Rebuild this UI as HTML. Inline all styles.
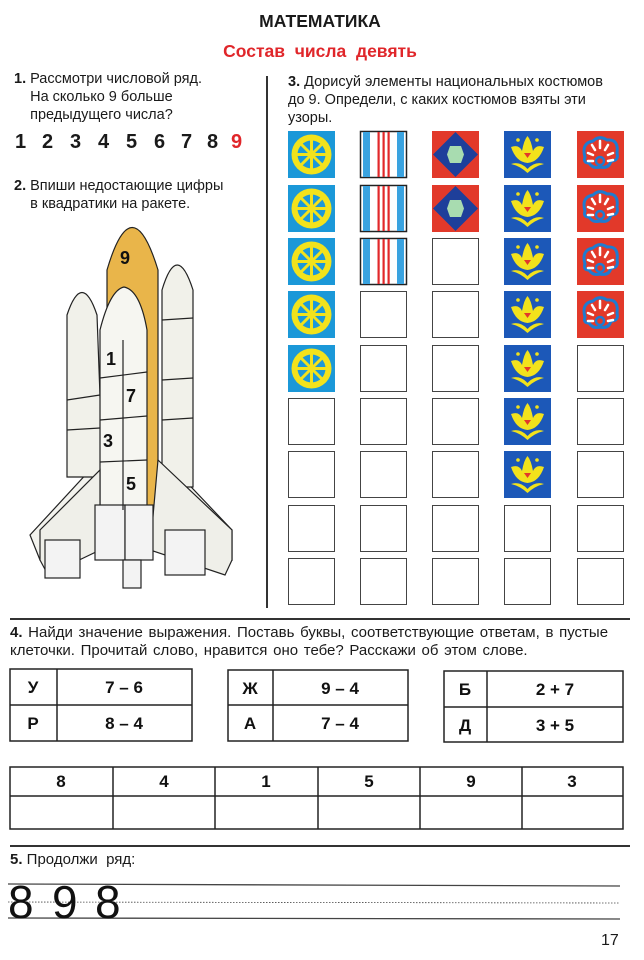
<!DOCTYPE html>
<html><head><meta charset="utf-8"><style>
body{margin:0;width:644px;height:960px;background:#fff;position:relative;overflow:hidden;font-family:"Liberation Sans",sans-serif;color:#1a1a1a}
.a{position:absolute;white-space:nowrap}
.t{font-size:14.5px;line-height:18px}
.n{position:absolute;top:131px;font-weight:bold;font-size:20px}
</style></head><body>
<div class="a" style="left:0;width:640px;top:11px;text-align:center;font-weight:bold;font-size:17.5px">МАТЕМАТИКА</div>
<div class="a" style="left:0;width:640px;top:41px;text-align:center;font-weight:bold;font-size:17.5px;color:#e0262a">Состав&nbsp; числа&nbsp; девять</div>

<div class="a t" style="left:14px;top:70px"><b>1.</b> Рассмотри числовой ряд.<br>&nbsp;&nbsp;&nbsp;&nbsp;На сколько 9 больше<br>&nbsp;&nbsp;&nbsp;&nbsp;предыдущего числа?</div>
<span class="n" style="left:15px">1</span><span class="n" style="left:42px">2</span><span class="n" style="left:70px">3</span><span class="n" style="left:98px">4</span><span class="n" style="left:126px">5</span><span class="n" style="left:154px">6</span><span class="n" style="left:181px">7</span><span class="n" style="left:207px">8</span><span class="n" style="left:231px;color:#e0262a">9</span>
<div class="a t" style="left:14px;top:177px"><b>2.</b> Впиши недостающие цифры<br>&nbsp;&nbsp;&nbsp;&nbsp;в квадратики на ракете.</div>

<div class="a t" style="left:288px;top:73px"><b>3.</b> Дорисуй элементы национальных костюмов<br>до 9. Определи, с каких костюмов взяты эти<br>узоры.</div>

<div class="a" style="left:266px;top:76px;width:1.5px;height:532px;background:#333"></div>
<div class="a" style="left:10px;top:618px;width:620px;height:1.5px;background:#333"></div>
<div class="a" style="left:10px;top:845px;width:620px;height:1.5px;background:#333"></div>

<svg class="a" style="left:0;top:0" width="644" height="960">
<g stroke="#222" stroke-width="1.2">
<path d="M40 560 L30 535 L90 470 L100 470 L100 520 Z" fill="#f3f3ee"/>
<path d="M232 560 L232 530 L175 470 L160 470 L160 520 Z" fill="#f3f3ee"/>
<path d="M67 477 L67 315 Q82 270 97 315 L103 477 Z" fill="#f1f1ea"/>
<path d="M162 487 L162 290 Q177 240 193 290 L193 487 Z" fill="#f1f1ea"/>
<path d="M107 543 L107 270 Q132 185 158 270 L158 543 Z" fill="#e9b54a"/>
<path d="M100 510 L100 330 Q110 290 124 287 Q140 290 147 330 L147 510 Z" fill="#f6f6f1"/>
<path d="M40 560 L40 530 L100 470 L100 550 L48 575 Z" fill="#efefe9"/>
<path d="M232 560 L232 530 L158 460 L150 550 L225 575 Z" fill="#efefe9"/>
<rect x="45" y="540" width="35" height="38" fill="#f3f3f3"/>
<rect x="165" y="530" width="40" height="45" fill="#f3f3f3"/>
<rect x="95" y="505" width="30" height="55" fill="#f3f3f3"/>
<rect x="125" y="505" width="28" height="55" fill="#f3f3f3"/>
<rect x="123" y="560" width="18" height="28" fill="#f3f3f3"/>
<line x1="100" y1="378" x2="147" y2="372" /><line x1="100" y1="420" x2="147" y2="416"/><line x1="100" y1="462" x2="147" y2="460"/><line x1="123" y1="340" x2="123" y2="510"/>
<line x1="67" y1="400" x2="100" y2="395"/><line x1="67" y1="430" x2="100" y2="428"/><line x1="162" y1="320" x2="193" y2="318"/><line x1="162" y1="380" x2="193" y2="378"/><line x1="162" y1="420" x2="193" y2="418"/>
</g>
<g font-family="Liberation Sans" font-weight="bold" font-size="18" fill="#111">
<text x="120" y="264">9</text><text x="106" y="365">1</text><text x="126" y="402">7</text><text x="103" y="447">3</text><text x="126" y="490">5</text></g>
<defs>
<g id="wh"><rect width="47" height="47" fill="#1b98d8"/><circle cx="23.5" cy="23.5" r="20" fill="#f2e21c"/><circle cx="23.5" cy="23.5" r="14" fill="#1b98d8"/><g stroke="#f2e21c" stroke-width="3"><line x1="23.5" y1="9" x2="23.5" y2="38"/><line x1="9" y1="23.5" x2="38" y2="23.5"/><line x1="13" y1="13" x2="34" y2="34"/><line x1="34" y1="13" x2="13" y2="34"/></g><circle cx="23.5" cy="23.5" r="3" fill="#f2e21c"/></g>
<g id="st"><rect x="0.5" y="0.5" width="46" height="46" fill="#fff" stroke="#222" stroke-width="1.5"/><rect x="3" y="1" width="7" height="45" fill="#3aa3e0"/><rect x="37" y="1" width="7" height="45" fill="#3aa3e0"/><rect x="17.5" y="1" width="2.2" height="45" fill="#e2282a"/><rect x="22.5" y="1" width="2.2" height="45" fill="#e2282a"/><rect x="27.5" y="1" width="2.2" height="45" fill="#e2282a"/></g>
<g id="di"><rect width="47" height="47" fill="#e2392a"/><path d="M23.5 1 L46 23.5 L23.5 46 L1 23.5 Z" fill="#1e3f9a"/><path d="M18 15 L29 15 L32 23.5 L29 32 L18 32 L15 23.5 Z" fill="#a8dcb0"/></g>
<g id="fl"><rect width="47" height="47" fill="#1c58b8"/><path d="M7 16 Q15 13 18 20 Q20 9 23.5 5 Q27 9 29 20 Q32 13 40 16 Q35 31 23.5 32 Q12 31 7 16 Z" fill="#f2e21c"/><path d="M7 33 Q16 30 23.5 38 Q31 30 40 33 Q31 35 23.5 42 Q16 35 7 33Z" fill="#f2e21c"/><circle cx="14" cy="9" r="1.8" fill="#f2e21c"/><circle cx="33" cy="9" r="1.8" fill="#f2e21c"/><path d="M20 22 L23.5 27 L27 22 Z" fill="#e2392a"/></g>
<g id="rd"><rect width="47" height="47" fill="#e2392a"/><path d="M8 26 Q4 12 16 10 Q22 4 30 9 Q42 8 40 22 Q42 30 34 30 Q32 38 23 36 Q16 38 12 32 Q6 32 8 26Z" fill="none" stroke="#1f7bd0" stroke-width="3"/><circle cx="23" cy="30" r="4" fill="none" stroke="#1f7bd0" stroke-width="2.5"/><g stroke="#fff" stroke-width="2.5" stroke-linecap="round"><line x1="11" y1="22" x2="16" y2="24"/><line x1="15" y1="14" x2="18" y2="19"/><line x1="23" y1="10" x2="23" y2="17"/><line x1="31" y1="14" x2="28" y2="19"/><line x1="36" y1="22" x2="31" y2="24"/><line x1="11" y1="30" x2="16" y2="30"/><line x1="31" y1="30" x2="36" y2="29"/></g></g>
<rect id="em" x="0.5" y="0.5" width="46" height="46" fill="#fff" stroke="#444"/>
</defs>
<g>
<use href="#wh" x="288" y="131"/><use href="#wh" x="288" y="185"/><use href="#wh" x="288" y="238"/><use href="#wh" x="288" y="291"/><use href="#wh" x="288" y="345"/>
<use href="#em" x="288" y="398"/><use href="#em" x="288" y="451"/><use href="#em" x="288" y="505"/><use href="#em" x="288" y="558"/>
<use href="#st" x="360" y="131"/><use href="#st" x="360" y="185"/><use href="#st" x="360" y="238"/>
<use href="#em" x="360" y="291"/><use href="#em" x="360" y="345"/><use href="#em" x="360" y="398"/><use href="#em" x="360" y="451"/><use href="#em" x="360" y="505"/><use href="#em" x="360" y="558"/>
<use href="#di" x="432" y="131"/><use href="#di" x="432" y="185"/>
<use href="#em" x="432" y="238"/><use href="#em" x="432" y="291"/><use href="#em" x="432" y="345"/><use href="#em" x="432" y="398"/><use href="#em" x="432" y="451"/><use href="#em" x="432" y="505"/><use href="#em" x="432" y="558"/>
<use href="#fl" x="504" y="131"/><use href="#fl" x="504" y="185"/><use href="#fl" x="504" y="238"/><use href="#fl" x="504" y="291"/><use href="#fl" x="504" y="345"/><use href="#fl" x="504" y="398"/><use href="#fl" x="504" y="451"/>
<use href="#em" x="504" y="505"/><use href="#em" x="504" y="558"/>
<use href="#rd" x="577" y="131"/><use href="#rd" x="577" y="185"/><use href="#rd" x="577" y="238"/><use href="#rd" x="577" y="291"/>
<use href="#em" x="577" y="345"/><use href="#em" x="577" y="398"/><use href="#em" x="577" y="451"/><use href="#em" x="577" y="505"/><use href="#em" x="577" y="558"/>
</g>
<g fill="none" stroke="#222" stroke-width="1.5">
<rect x="10" y="669" width="182" height="72"/><line x1="57" y1="669" x2="57" y2="741"/><line x1="10" y1="705" x2="192" y2="705"/>
<rect x="228" y="670" width="180" height="71"/><line x1="273" y1="670" x2="273" y2="741"/><line x1="228" y1="705" x2="408" y2="705"/>
<rect x="444" y="671" width="179" height="71"/><line x1="487" y1="671" x2="487" y2="742"/><line x1="444" y1="707" x2="623" y2="707"/>
<rect x="10" y="767" width="613" height="62"/><line x1="10" y1="796" x2="623" y2="796"/>
<line x1="113" y1="767" x2="113" y2="829"/><line x1="215" y1="767" x2="215" y2="829"/><line x1="318" y1="767" x2="318" y2="829"/><line x1="420" y1="767" x2="420" y2="829"/><line x1="522" y1="767" x2="522" y2="829"/>
</g>
<g font-family="Liberation Sans" font-weight="bold" font-size="17" fill="#111" text-anchor="middle">
<text x="33" y="693">У</text><text x="124" y="693">7 – 6</text><text x="33" y="729">Р</text><text x="124" y="729">8 – 4</text>
<text x="250" y="694">Ж</text><text x="340" y="694">9 – 4</text><text x="250" y="729">А</text><text x="340" y="729">7 – 4</text>
<text x="465" y="695">Б</text><text x="555" y="695">2 + 7</text><text x="465" y="731">Д</text><text x="555" y="731">3 + 5</text>
<text x="61" y="787">8</text><text x="164" y="787">4</text><text x="266" y="787">1</text><text x="369" y="787">5</text><text x="471" y="787">9</text><text x="572" y="787">3</text>
</g>
<g stroke="#444"><line x1="8" y1="884" x2="620" y2="886" stroke-width="1.3"/><line x1="8" y1="918" x2="620" y2="919" stroke-width="1.3"/><line x1="8" y1="902" x2="620" y2="903" stroke-dasharray="1.5 1.5" stroke-width="0.8"/></g>
<g font-family="Liberation Sans" font-size="46" fill="#111"><text x="8" y="918">8</text><text x="52" y="918">9</text><text x="95" y="918">8</text></g>
</svg>
<div class="a t" style="left:10px;top:624px;font-size:15px;word-spacing:1.5px"><b>4.</b> Найди значение выражения. Поставь буквы, соответствующие ответам, в пустые<br>клеточки. Прочитай слово, нравится оно тебе? Расскажи об этом слове.</div>
<div class="a t" style="left:10px;top:851px;font-size:15px"><b>5.</b> Продолжи&nbsp; ряд:</div>
<div class="a" style="left:601px;top:932px;font-size:16px">17</div>
</body></html>
